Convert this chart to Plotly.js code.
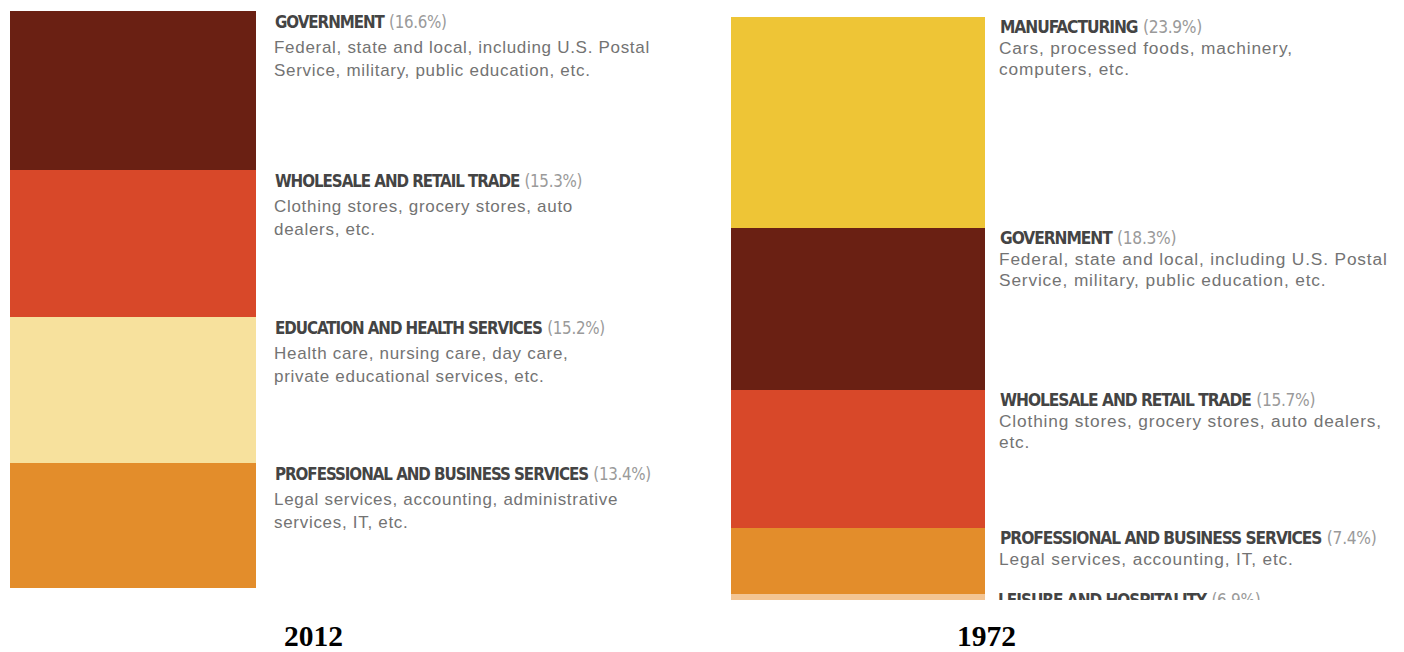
<!DOCTYPE html>
<html>
<head>
<meta charset="utf-8">
<script src="https://cdn.plot.ly/plotly-3.0.1.min.js"></script>
<style>html,body{margin:0;padding:0;background:#fff;}#chart{width:1404px;height:652px;}</style>
</head>
<body>
<div id="chart"></div>
<script>
// ---- data ----
const sectors2012 = ["GOVERNMENT", "WHOLESALE AND RETAIL TRADE", "EDUCATION AND HEALTH SERVICES", "PROFESSIONAL AND BUSINESS SERVICES"];
const shares2012 = [16.6, 15.3, 15.2, 13.4];
const notes2012 = [
  ["Federal, state and local, including U.S. Postal", "Service, military, public education, etc."],
  ["Clothing stores, grocery stores, auto", "dealers, etc."],
  ["Health care, nursing care, day care,", "private educational services, etc."],
  ["Legal services, accounting, administrative", "services, IT, etc."]
];
const sectors1972 = ["MANUFACTURING", "GOVERNMENT", "WHOLESALE AND RETAIL TRADE", "PROFESSIONAL AND BUSINESS SERVICES", "LEISURE AND HOSPITALITY"];
const shares1972 = [23.9, 18.3, 15.7, 7.4, 6.9];
const notes1972 = [
  ["Cars, processed foods, machinery,", "computers, etc."],
  ["Federal, state and local, including U.S. Postal", "Service, military, public education, etc."],
  ["Clothing stores, grocery stores, auto dealers,", "etc."],
  ["Legal services, accounting, IT, etc."],
  []
];
const years = ["2012", "1972"];
const sectorColors = {
  "GOVERNMENT": "#6a2013",
  "WHOLESALE AND RETAIL TRADE": "#d84829",
  "EDUCATION AND HEALTH SERVICES": "#f7e19d",
  "PROFESSIONAL AND BUSINESS SERVICES": "#e38d2b",
  "MANUFACTURING": "#eec536",
  "LEISURE AND HOSPITALITY": "#f3c594"
};

// ---- helpers ----
function starts(vals) { const out = []; let s = 0; vals.forEach(v => { out.push(s); s += v; }); return out; }
const W = 1404, H = 652;
const HEAD_FONT = "DejaVu Sans Condensed, Liberation Sans Narrow, Arial Narrow, sans-serif";
const BODY_FONT = "Liberation Sans, Arial, Helvetica, sans-serif";

const base2012 = starts(shares2012);
const base1972 = starts(shares1972);

function headText(name, val, ls) {
  return "<span style=\"letter-spacing:" + ls + "px\">" + name + "</span> <span style=\"color:#9a9a9a;font-weight:normal;letter-spacing:-0.3px\">(" + val.toFixed(1) + "%)</span>";
}
function bodyText(line, ls) {
  return "<span style=\"letter-spacing:" + ls + "px\">" + line + "</span>";
}

const traces = [
  {
    type: "bar", x: shares2012.map(() => 0), y: shares2012, base: base2012, width: 1,
    marker: { color: sectors2012.map(s => sectorColors[s]), line: { width: 0 } },
    xaxis: "x", yaxis: "y", hoverinfo: "skip", showlegend: false
  },
  {
    type: "bar", x: shares1972.map(() => 0), y: shares1972, base: base1972, width: 1,
    marker: { color: sectors1972.map(s => sectorColors[s]), line: { width: 0 } },
    xaxis: "x2", yaxis: "y2", hoverinfo: "skip", showlegend: false
  }
];

// right panel: x domain extends to the right edge so the clipped last label is drawn as a clipped text trace
const rightBarL = 731, rightBarR = 985, rightTextX = 998;
const barPx = rightBarR - rightBarL;
const x2max = -0.5 + (W - rightBarL) / barPx;
const lastIdx = shares1972.length - 1;
traces.push({
  type: "scatter", mode: "text",
  x: [-0.5 + (rightTextX - rightBarL) / barPx], y: [base1972[lastIdx]],
  text: [headText(sectors1972[lastIdx], shares1972[lastIdx], -1)],
  textposition: "bottom right",
  textfont: { family: HEAD_FONT, size: 17, color: "#444444", weight: "bold" },
  cliponaxis: true, xaxis: "x2", yaxis: "y2", hoverinfo: "skip", showlegend: false
});

const annotations = [];
function addLabels(sectors, shares, bases, notes, yref, xText, o) {
  sectors.forEach((s, i) => {
    if (o.skipLast && i === sectors.length - 1) return;
    annotations.push({
      xref: "paper", yref: yref, x: xText / W, y: bases[i], xanchor: "left", yanchor: "middle",
      yshift: -o.head, showarrow: false, text: headText(s, shares[i], o.headLs), align: "left",
      font: { family: HEAD_FONT, size: o.headSize, color: "#444444", weight: "bold" }
    });
    notes[i].forEach((line, k) => {
      annotations.push({
        xref: "paper", yref: yref, x: (xText - 1) / W, y: bases[i], xanchor: "left", yanchor: "middle",
        yshift: -(o.body + k * o.lineGap), showarrow: false, text: bodyText(line, o.bodyLs), align: "left",
        font: { family: BODY_FONT, size: o.bodySize, color: "#737373" }
      });
    });
  });
}
addLabels(sectors2012, shares2012, base2012, notes2012, "y", 273,
  { head: 11, body: 36, lineGap: 23, headSize: 16.8, headLs: -1.05, bodySize: 17, bodyLs: 0.7 });
addLabels(sectors1972, shares1972, base1972, notes1972, "y2", rightTextX,
  { head: 10, body: 31, lineGap: 21, headSize: 17.2, headLs: -1.05, bodySize: 17.3, bodyLs: 0.85, skipLast: true });

[313, 986].forEach((cx, j) => {
  annotations.push({
    xref: "paper", yref: "paper", x: cx / W, y: 1 - 636 / H, xanchor: "center", yanchor: "middle",
    showarrow: false, text: years[j],
    font: { family: "Liberation Serif, Times New Roman, serif", size: 29.5, color: "#000", weight: "bold" }
  });
});

const hidden = { showgrid: false, zeroline: false, showticklabels: false, ticks: "", showline: false, fixedrange: true };
const leftTop = 11, leftBot = 588, rightTop = 17, rightBot = 600;
const pxPerPctL = 9.6, pxPerPctR = 8.83;

const layout = {
  width: W, height: H, margin: { l: 0, r: 0, t: 0, b: 0 },
  paper_bgcolor: "#ffffff", plot_bgcolor: "rgba(0,0,0,0)",
  barmode: "overlay", bargap: 0,
  xaxis: Object.assign({}, hidden, { domain: [10 / W, 256 / W], range: [-0.5, 0.5], anchor: "y" }),
  yaxis: Object.assign({}, hidden, { domain: [1 - leftBot / H, 1 - leftTop / H], range: [(leftBot - leftTop) / pxPerPctL, 0], anchor: "x" }),
  xaxis2: Object.assign({}, hidden, { domain: [rightBarL / W, 1], range: [-0.5, x2max], anchor: "y2" }),
  yaxis2: Object.assign({}, hidden, { domain: [1 - rightBot / H, 1 - rightTop / H], range: [(rightBot - rightTop) / pxPerPctR, 0], anchor: "x2" }),
  annotations: annotations,
  showlegend: false
};

Plotly.newPlot("chart", traces, layout, { displayModeBar: false, staticPlot: true });
</script>
</body>
</html>
